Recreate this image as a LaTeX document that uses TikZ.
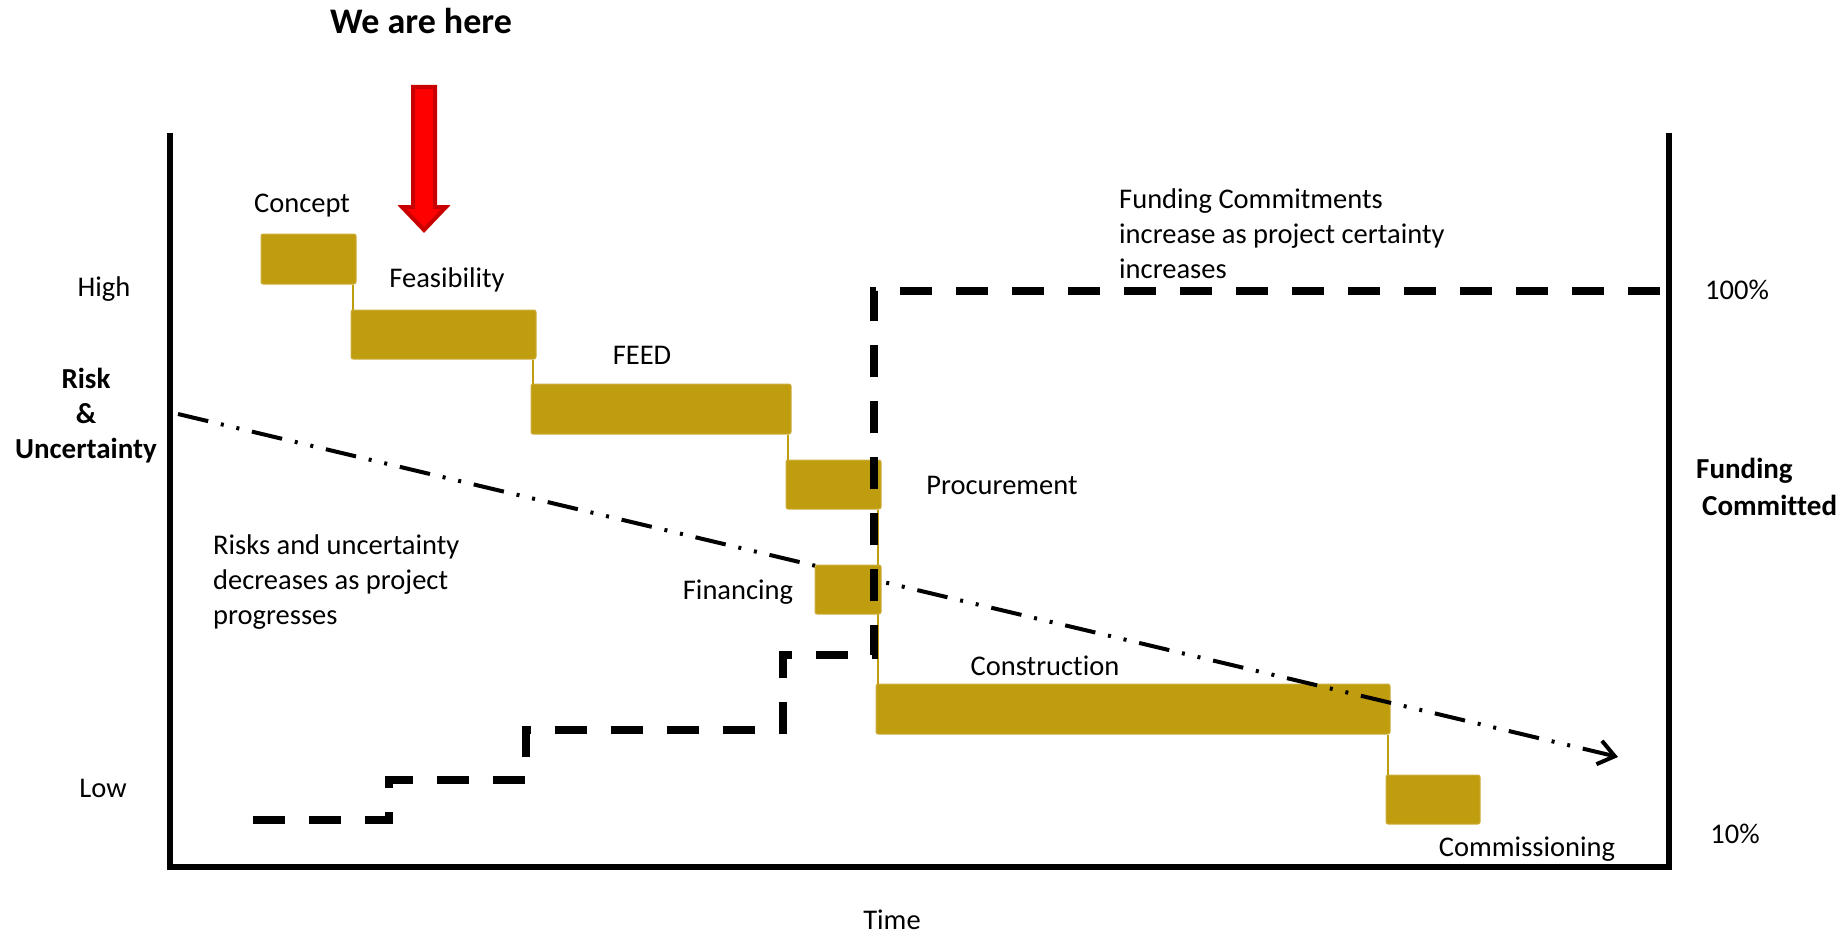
\documentclass[tikz,border=0pt]{standalone}
\usepackage{fontspec}
\setmainfont[Ligatures=NoCommon]{Carlito}
\usetikzlibrary{arrows.meta,calc}
\definecolor{gold}{RGB}{192,156,15}
\definecolor{goldedge}{RGB}{205,175,60}
\definecolor{darkred}{RGB}{200,0,0}
\begin{document}
\begin{tikzpicture}[x=1pt,y=-1pt,
  txt/.style={font=\fontsize{28.5}{35}\selectfont, inner sep=0pt},
  btxt/.style={font=\fontsize{29}{35}\selectfont\bfseries, inner sep=0pt},
  phase/.style={fill=gold, draw=goldedge, line width=1pt, rounded corners=2pt, inner sep=0pt},
  link/.style={draw=gold, line width=2pt},
  axisline/.style={line width=5.5pt, line join=miter},
  riskline/.style={line width=4pt, dash pattern=on 31pt off 13pt on 3pt off 13pt on 3pt off 13pt},
  fundline/.style={line width=7.5pt, dash pattern=on 32pt off 24pt, line join=miter},
]
\useasboundingbox (0,0) rectangle (1843,936);

% axes
\draw[axisline] (170,133) -- (170,867) -- (1669,867) -- (1669,133);

% phase boxes
\node[phase, minimum width=95pt, minimum height=50pt] (concept) at (308.5,259) {};
\node[phase, minimum width=185pt, minimum height=49pt] (feas) at (443.5,334.5) {};
\node[phase, minimum width=260pt, minimum height=50pt] (feed) at (661,409) {};
\node[phase, minimum width=95pt, minimum height=49pt] (proc) at (833.5,484.5) {};
\node[phase, minimum width=514pt, minimum height=50pt] (constr) at (1133,709) {};
\node[phase, minimum width=94pt, minimum height=49pt] (comm) at (1433,799.5) {};

% links between phases
\draw[link] ([xshift=2pt]feas.north west) -- ([xshift=2pt]feas.north west |- concept.south);
\draw[link] ([xshift=2pt]feed.north west) -- ([xshift=2pt]feed.north west |- feas.south);
\draw[link] ([xshift=2pt]proc.north west) -- ([xshift=2pt]proc.north west |- feed.south);
\draw[link] ([xshift=2pt]constr.north west) -- ([xshift=2pt]constr.north west |- proc.south);
\draw[link] ([xshift=2pt]comm.north west) -- ([xshift=2pt]comm.north west |- constr.south);

% risk line
\coordinate (rstart) at (178,414);
\coordinate (rend) at (1618,757);
\draw[riskline, -{Straight Barb[length=16pt,width=24pt]}] (rstart) -- (rend);

% financing box on top of risk line
\node[phase, minimum width=66pt, minimum height=49pt] (fin) at (848,589.5) {};

% funding line
\draw[fundline] (253,820) -- (389,820) -- (389,780) -- (526,780) -- (526,730) -- (783,730) -- (783,655) -- (874,655) -- (874,291) -- (1675,291);

% red arrow
\draw[fill=red, draw=darkred, line width=4pt, line join=miter]
  (413,87) -- (435,87) -- (435,207) -- (446,207) -- (424,230) -- (402,207) -- (413,207) -- cycle;

% texts
\node[font=\fontsize{36}{40}\selectfont\bfseries, inner sep=0pt] (here) at (421,21) {We are here};
\node[txt] (lconcept) at (302,206) {Concept};
\node[txt] (lfeas) at (447,280) {Feasibility};
\node[txt] (lfeed) at (642,355) {FEED};
\node[txt] (lproc) at (1002,485) {Procurement};
\node[txt] (lfin) at (738,592) {Financing};
\node[txt] (lconstr) at (1045,666) {Construction};
\node[txt] (lcomm) at (1527,849) {Commissioning};
\node[txt] (high) at (104,289) {High};
\node[txt] (low) at (103,788) {Low};
\node[btxt, align=center] (risk) at (86,416) {Risk\\\&\\Uncertainty};
\node[txt, align=left, anchor=west] (risknote) at (213,582) {Risks and uncertainty\\decreases as project\\progresses};
\node[txt, align=left, anchor=west] (fundnote) at (1119,234) {Funding Commitments\\increase as project certainty\\increases};
\node[txt] (p100) at (1737,290) {100\%};
\node[txt] (p10) at (1735,834) {10\%};
\node[btxt, anchor=west] (fund1) at (1696,471) {Funding};
\node[btxt, anchor=west] (fund2) at (1702,505) {Committed};
\node[txt] (time) at (892,920) {Time};
\end{tikzpicture}
\end{document}
